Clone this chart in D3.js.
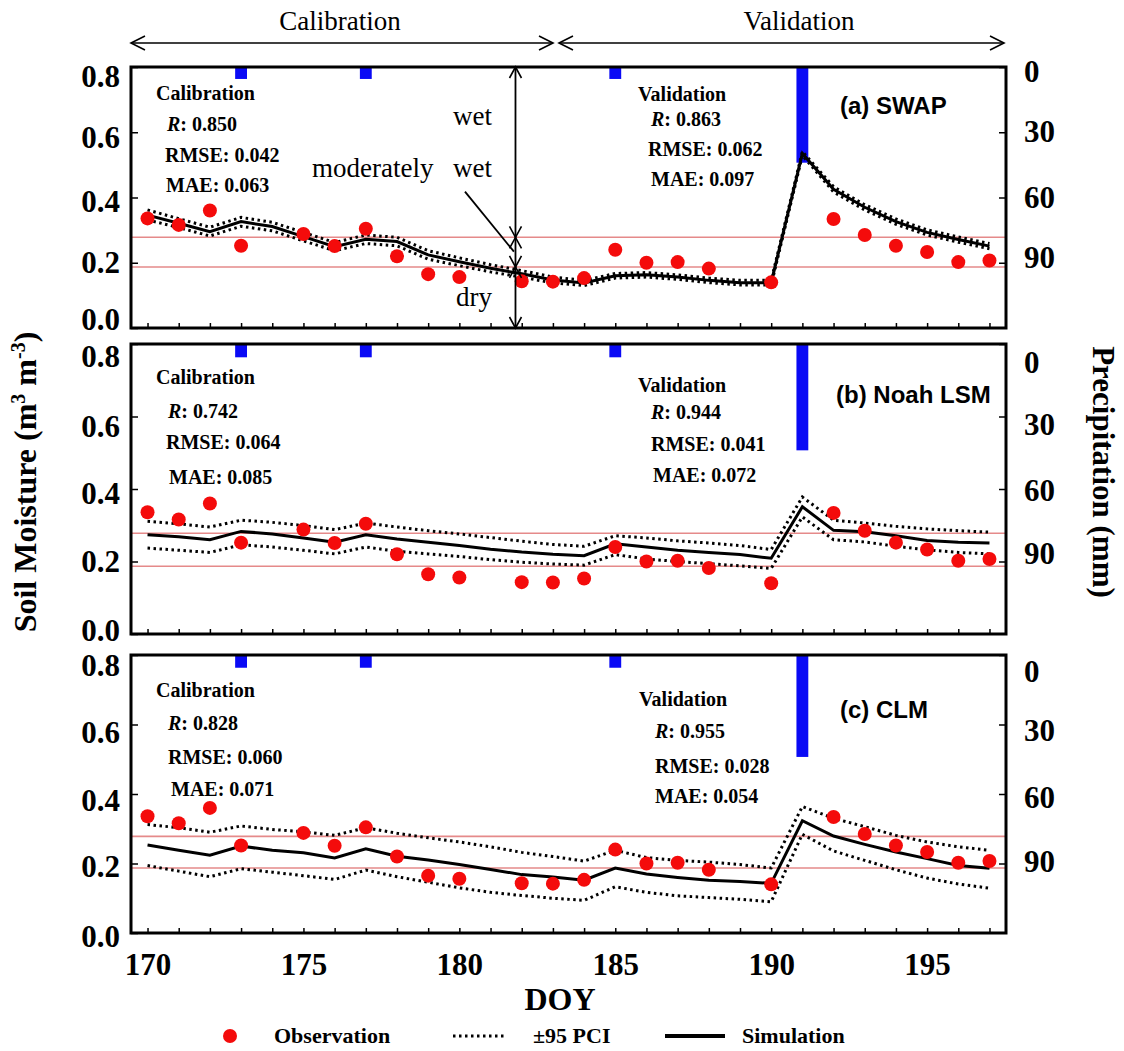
<!DOCTYPE html>
<html>
<head>
<meta charset="utf-8">
<script src="https://cdn.jsdelivr.net/npm/d3@7"></script>
<style>
  body { margin: 0; background: #fff; }
  svg { display: block; }
</style>
</head>
<body>
<div id="chart"></div>
<script>
// observations (same for all three models)
const obsDays = [170, 171, 172, 173, 175, 176, 177, 178, 179, 180, 182, 183, 184, 185, 186, 187, 188, 190, 192, 193, 194, 195, 196, 197]
const obsValues = [0.336, 0.316, 0.360, 0.252, 0.288, 0.251, 0.304, 0.220, 0.165, 0.156, 0.143, 0.142, 0.153, 0.240, 0.200, 0.202, 0.182, 0.140, 0.334, 0.285, 0.252, 0.233, 0.202, 0.207]

// simulated days
const simDays = [170, 171, 172, 173, 174, 175, 176, 177, 178, 179, 180, 181, 182, 183, 184, 185, 186, 187, 188, 189, 190, 191, 192, 193, 194, 195, 196, 197]

const swapSim = [0.346, 0.321, 0.295, 0.326, 0.311, 0.280, 0.249, 0.272, 0.265, 0.224, 0.203, 0.183, 0.166, 0.147, 0.138, 0.160, 0.163, 0.156, 0.146, 0.139, 0.139, 0.535, 0.425, 0.370, 0.326, 0.293, 0.271, 0.251]
const swapUp = [0.362, 0.335, 0.309, 0.339, 0.324, 0.293, 0.262, 0.285, 0.278, 0.237, 0.215, 0.194, 0.176, 0.156, 0.146, 0.167, 0.170, 0.163, 0.153, 0.146, 0.146, 0.541, 0.433, 0.378, 0.334, 0.301, 0.279, 0.259]
const swapLo = [0.331, 0.308, 0.282, 0.312, 0.298, 0.267, 0.237, 0.259, 0.252, 0.211, 0.191, 0.172, 0.156, 0.138, 0.130, 0.153, 0.156, 0.149, 0.139, 0.132, 0.132, 0.529, 0.417, 0.362, 0.318, 0.285, 0.263, 0.243]

const noahSim = [0.274, 0.268, 0.260, 0.283, 0.276, 0.265, 0.253, 0.274, 0.262, 0.253, 0.244, 0.234, 0.226, 0.220, 0.216, 0.249, 0.240, 0.231, 0.225, 0.219, 0.209, 0.351, 0.286, 0.282, 0.271, 0.258, 0.253, 0.251]
const noahUp = [0.311, 0.304, 0.295, 0.314, 0.308, 0.299, 0.288, 0.306, 0.295, 0.285, 0.276, 0.266, 0.256, 0.247, 0.242, 0.271, 0.265, 0.257, 0.251, 0.244, 0.233, 0.378, 0.314, 0.306, 0.297, 0.290, 0.285, 0.281]
const noahLo = [0.237, 0.231, 0.225, 0.246, 0.240, 0.231, 0.221, 0.240, 0.228, 0.221, 0.214, 0.205, 0.198, 0.193, 0.190, 0.219, 0.207, 0.200, 0.194, 0.188, 0.181, 0.323, 0.260, 0.254, 0.242, 0.232, 0.225, 0.221]

const clmSim = [0.253, 0.238, 0.224, 0.250, 0.238, 0.231, 0.216, 0.242, 0.221, 0.210, 0.197, 0.183, 0.168, 0.161, 0.152, 0.187, 0.170, 0.160, 0.152, 0.148, 0.143, 0.323, 0.279, 0.255, 0.233, 0.214, 0.194, 0.186]
const clmUp = [0.312, 0.303, 0.290, 0.308, 0.298, 0.291, 0.281, 0.303, 0.287, 0.274, 0.262, 0.248, 0.232, 0.220, 0.207, 0.238, 0.217, 0.209, 0.204, 0.197, 0.187, 0.364, 0.330, 0.306, 0.281, 0.262, 0.248, 0.238]
const clmLo = [0.194, 0.178, 0.162, 0.185, 0.175, 0.165, 0.154, 0.181, 0.162, 0.146, 0.130, 0.117, 0.108, 0.100, 0.094, 0.133, 0.117, 0.107, 0.102, 0.097, 0.090, 0.284, 0.236, 0.209, 0.182, 0.158, 0.141, 0.129]

// precipitation (mm), plotted downward from top
const precipDays = [173, 177, 185, 191]
const precipMm = [5.5, 5.5, 5.5, 44]

// wetness thresholds
const wetLine = 0.278
const dryLine = 0.187

const soilTicks = [0, 0.2, 0.4, 0.6, 0.8]
const precipTicks = [0, 30, 60, 90]

const W = 1124, H = 1051
const left = 131, right = 1006

const panels = [
  { label: "(a) SWAP", top: 67, bottom: 328, sim: swapSim, up: swapUp, lo: swapLo,
    cal: ["0.850", "0.042", "0.063"], val: ["0.863", "0.062", "0.097"],
    calPos: [[156, 100], [167, 131], [165, 162], [166, 192]],
    valPos: [[638, 101], [651, 126], [648, 156], [651, 186]],
    labelPos: [840, 114],
    lShift: [-8, 0, 4, 5, 10], rShift: [5, -1, 0, -5] },
  { label: "(b) Noah LSM", top: 344, bottom: 634, sim: noahSim, up: noahUp, lo: noahLo,
    cal: ["0.742", "0.064", "0.085"], val: ["0.944", "0.041", "0.072"],
    calPos: [[156, 384], [168, 418], [166, 449], [169, 484]],
    valPos: [[638, 392], [651, 419], [651, 451], [653, 482]],
    labelPos: [836, 403],
    lShift: [-3, 0, 5, 10, 13], rShift: [19, 8, 2, -8] },
  { label: "(c) CLM", top: 655, bottom: 933, sim: clmSim, up: clmUp, lo: clmLo,
    cal: ["0.828", "0.060", "0.071"], val: ["0.955", "0.028", "0.054"],
    calPos: [[156, 697], [168, 730], [168, 764], [171, 796]],
    valPos: [[639, 706], [655, 738], [655, 773], [655, 803]],
    labelPos: [840, 718],
    lShift: [4, 3, 7, 8, 11], rShift: [17, 6, 4, -2] }
]

const serif = "'Liberation Serif','Times New Roman',serif"
const sans = "'Liberation Sans',Arial,sans-serif"

const svg = d3.select("#chart")
  .append("svg")
  .attr("width", W)
  .attr("height", H)
  .style("font-family", serif);

const x = d3.scaleLinear().domain([169.47, 197.53]).range([left, right]);

// chevron arrow head, tip at (tx,ty), pointing in direction (dx,dy)
const chevron = (g, tx, ty, dx, dy, len, half) => {
  const px = -dy, py = dx;
  g.append("path")
    .attr("d", `M${tx - dx * len + px * half},${ty - dy * len + py * half}L${tx},${ty}L${tx - dx * len - px * half},${ty - dy * len - py * half}`)
    .attr("fill", "none").attr("stroke", "#000").attr("stroke-width", 1.6);
}

panels.forEach((p, i) => {
  const y = d3.scaleLinear().domain([0, 0.8]).range([p.bottom, p.top]);
  const yp = d3.scaleLinear().domain([0, 120]).range([p.top, p.bottom]);
  const g = svg.append("g");

  // precipitation bars
  g.selectAll(".bar")
    .data(precipDays)
    .join("rect")
    .attr("class", "bar")
    .attr("x", d => x(d - 0.19))
    .attr("width", d => x(d + 0.19) - x(d - 0.19))
    .attr("y", yp(0))
    .attr("height", (d, j) => yp(precipMm[j]) - yp(0))
    .attr("fill", "#0a0af5");

  // wet / dry thresholds
  g.selectAll(".thr")
    .data([wetLine, dryLine])
    .join("line")
    .attr("x1", left).attr("x2", right)
    .attr("y1", d => y(d)).attr("y2", d => y(d))
    .attr("stroke", "#e58a8a")
    .attr("stroke-width", 1.6);

  const line = d3.line()
    .x((d, j) => x(simDays[j]))
    .y(d => y(d));

  // 95 PCI bounds
  g.selectAll(".pci")
    .data([p.up, p.lo])
    .join("path")
    .attr("d", line)
    .attr("fill", "none")
    .attr("stroke", "#000")
    .attr("stroke-width", 3)
    .attr("stroke-dasharray", "2.5,3.5");

  // simulation
  g.append("path")
    .datum(p.sim)
    .attr("d", line)
    .attr("fill", "none")
    .attr("stroke", "#000")
    .attr("stroke-width", 3);

  // observations
  g.selectAll(".obs")
    .data(obsValues)
    .join("circle")
    .attr("cx", (d, j) => x(obsDays[j]))
    .attr("cy", d => y(d))
    .attr("r", 7)
    .attr("fill", "#f40b0b");

  // left axis
  const ax = g.append("g")
    .attr("transform", `translate(${left},0)`)
    .call(d3.axisLeft(y).tickValues(soilTicks).tickFormat(d3.format(".1f"))
      .tickSizeInner(-7).tickSizeOuter(0).tickPadding(11));
  ax.select(".domain").remove();
  ax.selectAll("line").attr("stroke-width", 1.5);
  ax.selectAll("text")
    .attr("dy", (d, j) => (0.32 * 31 + p.lShift[j]) + "px")
    .style("font-family", serif).style("font-size", "31px").style("font-weight", "bold").attr("fill", "#000");

  // right axis (precipitation)
  const ar = g.append("g")
    .attr("transform", `translate(${right},0)`)
    .call(d3.axisRight(yp).tickValues(precipTicks)
      .tickSizeInner(-7).tickSizeOuter(0).tickPadding(18));
  ar.select(".domain").remove();
  ar.selectAll("line").attr("stroke-width", 1.5);
  ar.selectAll("text")
    .attr("dy", (d, j) => (0.32 * 31 + p.rShift[j]) + "px")
    .style("font-family", serif).style("font-size", "31px").style("font-weight", "bold").attr("fill", "#000");

  // bottom axis, ticks every day
  const ab = g.append("g")
    .attr("transform", `translate(0,${p.bottom})`)
    .call(d3.axisBottom(x).tickValues(simDays)
      .tickFormat(d => (i === 2 && d % 5 === 0) ? d : "")
      .tickSizeInner(-5).tickSizeOuter(0).tickPadding(20));
  ab.select(".domain").remove();
  ab.selectAll("line").attr("stroke-width", 1.5);
  ab.selectAll("text")
    .style("font-family", serif).style("font-size", "31px").style("font-weight", "bold").attr("fill", "#000");

  // statistics
  const stat = (pos, title, vals) => {
    const t = g.append("g").style("font-size", "20px").style("font-weight", "bold");
    t.append("text").attr("x", pos[0][0]).attr("y", pos[0][1]).text(title);
    const r = t.append("text").attr("x", pos[1][0]).attr("y", pos[1][1]);
    r.append("tspan").style("font-style", "italic").text("R");
    r.append("tspan").text(": " + vals[0]);
    t.append("text").attr("x", pos[2][0]).attr("y", pos[2][1]).text("RMSE: " + vals[1]);
    t.append("text").attr("x", pos[3][0]).attr("y", pos[3][1]).text("MAE: " + vals[2]);
  }
  stat(p.calPos, "Calibration", p.cal);
  stat(p.valPos, "Validation", p.val);

  g.append("text")
    .attr("x", p.labelPos[0]).attr("y", p.labelPos[1])
    .style("font-family", sans).style("font-size", "24px").style("font-weight", "bold")
    .text(p.label);

  // wetness class arrows in panel (a)
  if (i === 0) {
    const ax0 = x(181.8);
    g.append("line")
      .attr("x1", ax0).attr("x2", ax0)
      .attr("y1", y(0.8)).attr("y2", y(0))
      .attr("stroke", "#000").attr("stroke-width", 1.8);
    chevron(g, ax0, y(0.8), 0, -1, 11, 6);
    chevron(g, ax0, y(wetLine), 0, 1, 11, 6);
    chevron(g, ax0, y(wetLine), 0, -1, 11, 6);
    chevron(g, ax0, y(dryLine), 0, 1, 11, 6);
    chevron(g, ax0, y(dryLine), 0, -1, 11, 6);
    chevron(g, ax0, y(0), 0, 1, 11, 6);
    g.append("line")
      .attr("x1", x(180.18)).attr("y1", y(0.418))
      .attr("x2", x(181.75)).attr("y2", y(0.234))
      .attr("stroke", "#000").attr("stroke-width", 1.8);
    const ann = g.append("g").style("font-size", "27px");
    ann.append("text").attr("x", 453).attr("y", 125).text("wet");
    ann.append("text").attr("x", 312).attr("y", 177).text("moderately");
    ann.append("text").attr("x", 453).attr("y", 177).text("wet");
    ann.append("text").attr("x", 456).attr("y", 306).text("dry");
  }

  // frame
  g.append("rect")
    .attr("x", left).attr("y", p.top)
    .attr("width", right - left).attr("height", p.bottom - p.top)
    .attr("fill", "none").attr("stroke", "#000").attr("stroke-width", 3);
});

// calibration / validation periods
const hdr = svg.append("g");
hdr.append("line").attr("x1", 131).attr("x2", 553).attr("y1", 43).attr("y2", 43).attr("stroke", "#000").attr("stroke-width", 1.6);
chevron(hdr, 131, 43, -1, 0, 14, 7);
chevron(hdr, 553, 43, 1, 0, 14, 7);
hdr.append("line").attr("x1", 559).attr("x2", 1004).attr("y1", 43).attr("y2", 43).attr("stroke", "#000").attr("stroke-width", 1.6);
chevron(hdr, 559, 43, -1, 0, 14, 7);
chevron(hdr, 1004, 43, 1, 0, 14, 7);
hdr.append("text").attr("x", 340).attr("y", 30).attr("text-anchor", "middle").style("font-size", "27px").text("Calibration");
hdr.append("text").attr("x", 799).attr("y", 30).attr("text-anchor", "middle").style("font-size", "27px").text("Validation");

// axis titles
svg.append("text")
  .attr("transform", "translate(36,482) rotate(-90)")
  .attr("text-anchor", "middle")
  .style("font-size", "32px").style("font-weight", "bold")
  .call(t => {
    t.append("tspan").text("Soil Moisture (m");
    t.append("tspan").attr("baseline-shift", "super").style("font-size", "20px").text("3");
    t.append("tspan").text(" m");
    t.append("tspan").attr("baseline-shift", "super").style("font-size", "20px").text("-3");
    t.append("tspan").text(")");
  });

svg.append("text")
  .attr("transform", "translate(1093,472) rotate(90)")
  .attr("text-anchor", "middle")
  .style("font-size", "31px").style("font-weight", "bold")
  .text("Precipitation (mm)");

svg.append("text")
  .attr("x", 560).attr("y", 1010)
  .attr("text-anchor", "middle")
  .style("font-size", "32px").style("font-weight", "bold")
  .text("DOY");

// legend
const lg = svg.append("g").style("font-size", "22px").style("font-weight", "bold");
const ly = 1036;
lg.append("circle").attr("cx", 230).attr("cy", ly).attr("r", 7).attr("fill", "#f40b0b");
lg.append("text").attr("x", 274).attr("y", ly + 7).text("Observation");
lg.append("line").attr("x1", 453).attr("x2", 507).attr("y1", ly).attr("y2", ly)
  .attr("stroke", "#000").attr("stroke-width", 3).attr("stroke-dasharray", "2.5,3.5");
lg.append("text").attr("x", 533).attr("y", ly + 7).text("±95 PCI");
lg.append("line").attr("x1", 665).attr("x2", 725).attr("y1", ly).attr("y2", ly)
  .attr("stroke", "#000").attr("stroke-width", 4);
lg.append("text").attr("x", 742).attr("y", ly + 7).text("Simulation");
</script>
</body>
</html>
